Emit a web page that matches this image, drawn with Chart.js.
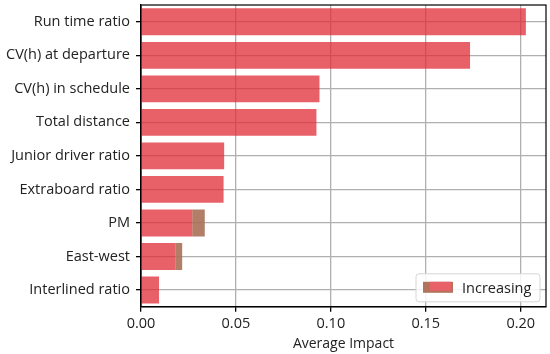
<!DOCTYPE html>
<html>
<head>
<meta charset="utf-8">
<script src="https://cdn.jsdelivr.net/npm/chart.js@4.4.0/dist/chart.umd.min.js"></script>
<style>
  html, body { margin: 0; padding: 0; background: #fff; }
  #wrap { width: 550px; height: 354px; position: relative; }
</style>
</head>
<body>
<div id="wrap"><canvas id="impactChart"></canvas></div>
<script>
var categories = ["Run time ratio", "CV(h) at departure", "CV(h) in schedule", "Total distance",
  "Junior driver ratio", "Extraboard ratio", "PM", "East-west", "Interlined ratio"];
var increasing = [0.2027, 0.1733, 0.094, 0.0924, 0.0438, 0.0435, 0.027, 0.0181, 0.0095];
// brownish part sticking out past the red bars
var behindStart = [null, null, null, null, null, null, 0.027, 0.0181, null];
var behindEnd = [null, null, null, null, null, null, 0.0336, 0.0217, null];
var xTicks = [0, 0.05, 0.10, 0.15, 0.20];

var fontName = "'Open Sans', 'Noto Sans', sans-serif";
var red = 'rgba(224, 43, 54, 0.75)';
var brown = 'rgba(170, 112, 88, 0.9)';

var behind = categories.map(function (c, i) {
  return behindStart[i] === null ? null : [behindStart[i], behindEnd[i]];
});

// box round the plot like matplotlib
var frame = {
  id: 'frame',
  afterDatasetsDraw: function (chart) {
    var a = chart.chartArea, ctx = chart.ctx;
    ctx.save();
    ctx.strokeStyle = '#000';
    ctx.lineWidth = 1.2;
    ctx.strokeRect(a.left, a.top, a.right - a.left, a.bottom - a.top);

    // legend in lower right corner
    var w = 124, h = 28;
    var x = a.right - w - 6, y = a.bottom - h - 5;
    ctx.fillStyle = 'rgba(255,255,255,0.85)';
    ctx.strokeStyle = '#d6d6d6';
    ctx.lineWidth = 1;
    ctx.beginPath();
    ctx.roundRect(x, y, w, h, 3);
    ctx.fill();
    ctx.stroke();
    ctx.fillStyle = 'rgb(176, 116, 92)';
    ctx.fillRect(x + 7, y + 8, 30, 11);
    ctx.fillStyle = 'rgb(232, 96, 104)';
    ctx.fillRect(x + 14, y + 8, 21, 9);
    ctx.fillStyle = '#222';
    ctx.font = '14.5px ' + fontName;
    ctx.textBaseline = 'middle';
    ctx.fillText(chart.data.datasets[0].label, x + 46, y + h / 2 + 1);
    ctx.restore();
  }
};

new Chart("impactChart", {
  type: "bar",
  data: {
    labels: categories,
    datasets: [{
      label: "Increasing",
      data: increasing,
      backgroundColor: red,
      categoryPercentage: 0.8,
      barPercentage: 1.0,
      grouped: false
    }, {
      label: "Decreasing",
      data: behind,
      backgroundColor: brown,
      categoryPercentage: 0.8,
      barPercentage: 1.0,
      grouped: false
    }]
  },
  plugins: [frame],
  options: {
    indexAxis: 'y',
    responsive: true,
    maintainAspectRatio: false,
    animation: false,
    layout: { padding: { top: 5, right: 4, left: 0, bottom: 2 } },
    plugins: {
      legend: { display: false },
      tooltip: { enabled: false }
    },
    scales: {
      x: {
        min: 0,
        max: 0.2133,
        afterBuildTicks: function (axis) {
          axis.ticks = xTicks.map(function (v) { return { value: v }; });
        },
        grid: { color: '#b0b0b0', lineWidth: 1.3, tickColor: '#000', tickLength: 5 },
        border: { display: true, color: '#000', width: 1.2 },
        ticks: {
          color: '#222',
          font: { family: fontName, size: 14.5 },
          padding: 3,
          callback: function (v) { return Number(v).toFixed(2); }
        },
        title: {
          display: true,
          text: "Average Impact",
          color: '#222',
          font: { family: fontName, size: 14 },
          padding: { top: 0, bottom: 0 }
        }
      },
      y: {
        afterFit: function (scale) {
          scale.paddingTop = 0;
          scale.paddingBottom = 0;
        },
        grid: { color: '#b0b0b0', lineWidth: 1.3, tickColor: '#000', tickLength: 5, offset: false },
        border: { display: true, color: '#000', width: 1.2 },
        ticks: {
          color: '#222',
          font: { family: fontName, size: 14.5 },
          padding: 6
        }
      }
    }
  }
});
</script>
</body>
</html>
